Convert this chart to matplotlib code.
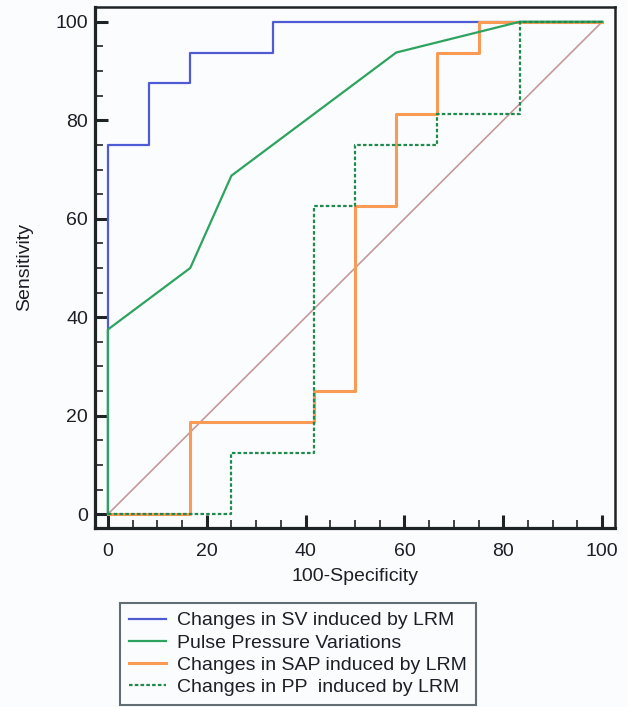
import matplotlib
matplotlib.use("Agg")
import matplotlib.pyplot as plt

plt.rcParams['font.family'] = ['Liberation Sans', 'DejaVu Sans']

# ROC curve points (100-Specificity, Sensitivity)
sv_x = [0, 0, 8.33, 8.33, 16.67, 16.67, 33.33, 33.33, 100]
sv_y = [0, 75, 75, 87.5, 87.5, 93.75, 93.75, 100, 100]

ppv_x = [0, 0, 16.67, 25, 58.33, 83.33, 100]
ppv_y = [0, 37.5, 50, 68.75, 93.75, 100, 100]

sap_x = [0, 16.67, 16.67, 41.67, 41.67, 50, 50, 58.33, 58.33, 66.67, 66.67, 75, 75, 100]
sap_y = [0, 0, 18.75, 18.75, 25, 25, 62.5, 62.5, 81.25, 81.25, 93.75, 93.75, 100, 100]

pp_x = [0, 25, 25, 41.67, 41.67, 50, 50, 66.67, 66.67, 83.33, 83.33, 100]
pp_y = [0, 0, 12.5, 12.5, 62.5, 62.5, 75, 75, 81.25, 81.25, 100, 100]

labels = ['Changes in SV induced by LRM',
          'Pulse Pressure Variations',
          'Changes in SAP induced by LRM',
          'Changes in PP  induced by LRM']

bg = '#fbfcfe'
txt = '#1c1f26'
fig = plt.figure(figsize=(6.28, 7.07), dpi=100, facecolor=bg)
ax = fig.add_axes([0.1513, 0.2532, 0.8280, 0.7369], facecolor=bg)

ax.plot([0, 100], [0, 100], color='#c49a9a', lw=1.2, zorder=1)
l1, = ax.plot(sv_x, sv_y, color='#4f5bd5', lw=1.6, zorder=2)
l3, = ax.plot(sap_x, sap_y, color='#f99a55', lw=2.2, zorder=3)
l2, = ax.plot(ppv_x, ppv_y, color='#2ea35f', lw=1.6, zorder=4)
l4, = ax.plot(pp_x, pp_y, color='#1f8a4c', lw=1.6, ls=(0, (1.6, 1.0)), zorder=5)

ax.set_xlim(-2.6, 102.6)
ax.set_ylim(-2.8, 103)
ax.set_xticks([0, 20, 40, 60, 80, 100])
ax.set_yticks([0, 20, 40, 60, 80, 100])
ax.set_xticks(range(0, 101, 5), minor=True)
ax.set_yticks(range(0, 101, 5), minor=True)
ax.tick_params(which='major', direction='in', length=9.5, width=2.2,
               labelsize=14, colors='#1e2326', labelcolor=txt)
ax.tick_params(which='minor', direction='in', length=5.5, width=1.2, colors='#1e2326')
ax.tick_params(axis='x', which='major', pad=10.5)
ax.tick_params(axis='y', which='major', pad=5)

for side in ['left', 'bottom']:
    ax.spines[side].set_linewidth(2.3)
for side in ['top', 'right']:
    ax.spines[side].set_linewidth(1.8)
for s in ax.spines.values():
    s.set_color('#1e2326')

ax.set_xlabel('100-Specificity', fontsize=14, color=txt, labelpad=6)
ax.set_ylabel('Sensitivity', fontsize=14, color=txt, labelpad=16)

leg = fig.legend([l1, l2, l3, l4], labels, loc='upper left',
                 bbox_to_anchor=(0.191, 0.147), fontsize=14,
                 frameon=True, fancybox=False, handlelength=1.9,
                 handletextpad=0.6, labelspacing=0.24, borderpad=0.45,
                 borderaxespad=0)
for t in leg.get_texts():
    t.set_color(txt)
leg.get_frame().set_edgecolor('#3a4a50')
leg.get_frame().set_linewidth(1.5)
leg.get_frame().set_facecolor(bg)

fig.savefig('out.png', dpi=100, facecolor=bg)
